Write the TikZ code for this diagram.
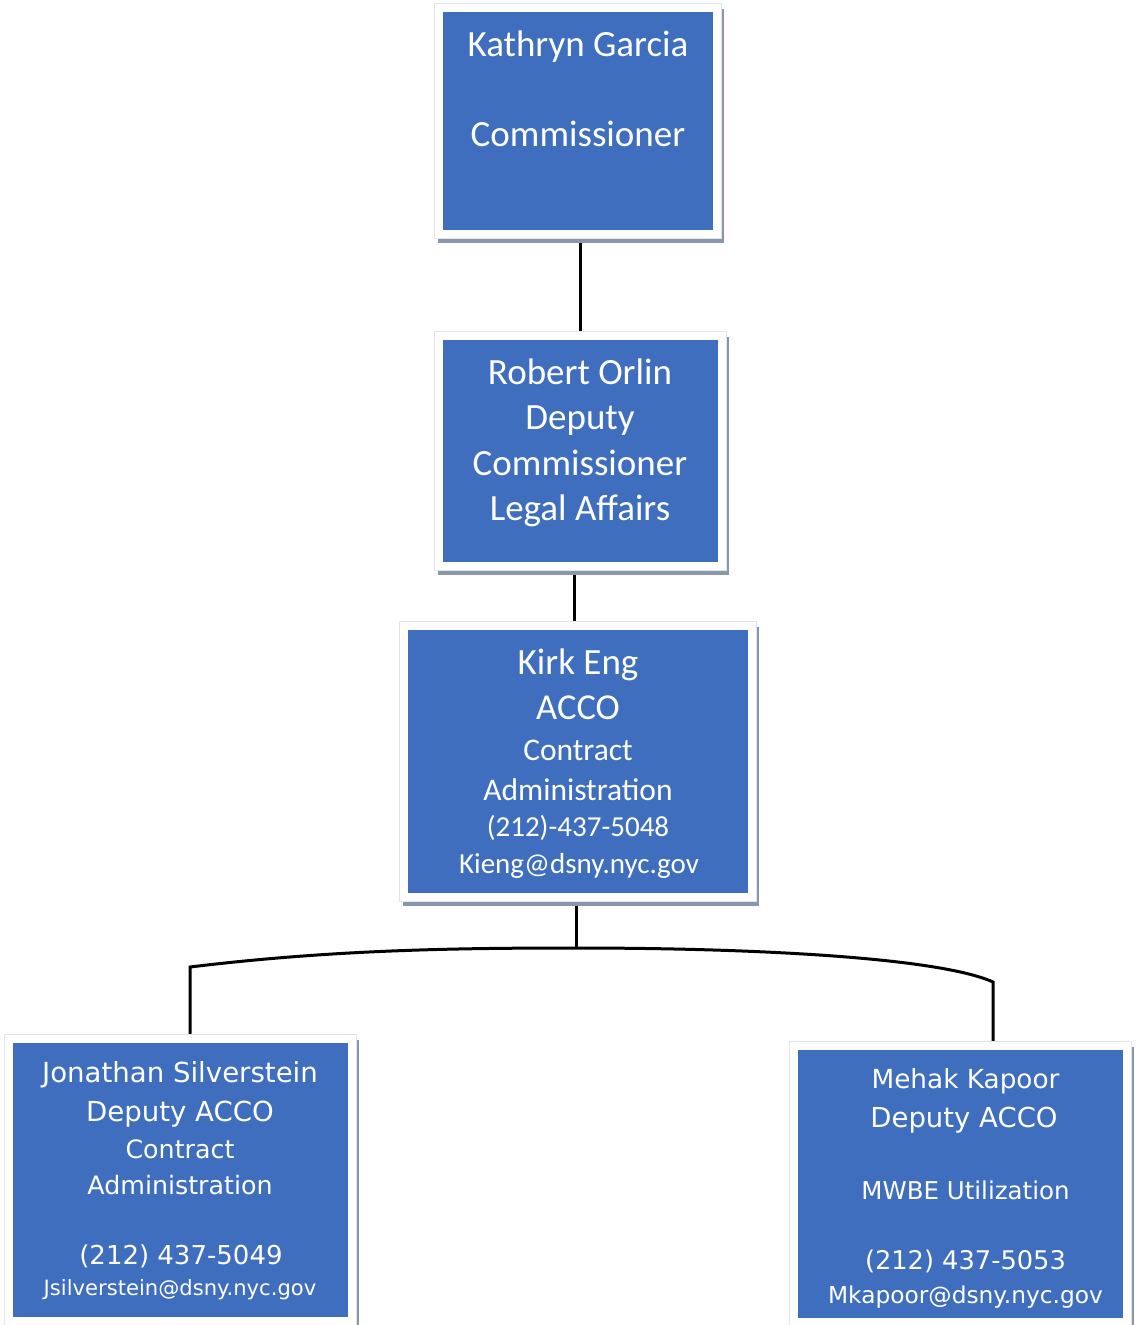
\documentclass[tikz,border=0pt]{standalone}
\usepackage{fontspec}
\newfontfamily\calfont{Carlito}
\newfontfamily\verfont{DejaVu Sans}
\usetikzlibrary{backgrounds,calc}

\definecolor{boxblue}{RGB}{63,110,190}
\definecolor{shadowgray}{RGB}{138,150,172}
\definecolor{frameedge}{RGB}{225,229,235}

\tikzset{
  orgbox/.style={rectangle, fill=boxblue, draw=none, inner sep=0pt, outer sep=0pt,
    preaction={draw=shadowgray, fill=shadowgray, line width=16pt,
               transform canvas={shift={(3pt,-5pt)}}},
    preaction={draw=frameedge, line width=18pt},
    preaction={draw=white, line width=16pt}},
  linetxt/.style={text=white, inner sep=0pt, anchor=mid},
  wire/.style={draw=black, line width=3pt},
}

\begin{document}
\begin{tikzpicture}[x=1pt,y=-1pt]
\useasboundingbox (0,0) rectangle (1140,1325);

% boxes
\node[orgbox, minimum width=270pt, minimum height=218pt] (k1) at (578,121) {};
\node[orgbox, minimum width=275pt, minimum height=222pt] (k2) at (580.5,451) {};
\node[orgbox, minimum width=340pt, minimum height=263pt] (k3) at (578,761.5) {};
\node[orgbox, minimum width=335pt, minimum height=274pt] (k4) at (180.5,1180) {};
\node[orgbox, minimum width=325pt, minimum height=268pt] (k5) at (960.5,1184) {};

% Commissioner
\node[linetxt, font=\calfont\fontsize{37}{37}\selectfont] (k1a) at (578,54) {Kathryn Garcia};
\node[linetxt, font=\calfont\fontsize{37}{37}\selectfont] (k1b) at (578,144) {Commissioner};

% Deputy Commissioner
\node[linetxt, font=\calfont\fontsize{37}{37}\selectfont] (k2a) at (580,382) {Robert Orlin};
\node[linetxt, font=\calfont\fontsize{37}{37}\selectfont] (k2b) at (580,427) {Deputy};
\node[linetxt, font=\calfont\fontsize{37}{37}\selectfont] (k2c) at (580,473) {Commissioner};
\node[linetxt, font=\calfont\fontsize{37}{37}\selectfont] (k2d) at (580,518) {Legal Affairs};

% ACCO
\node[linetxt, font=\calfont\fontsize{37}{37}\selectfont] (k3a) at (578,672) {Kirk Eng};
\node[linetxt, font=\calfont\fontsize{36.5}{37}\selectfont] (k3b) at (578,717) {ACCO};
\node[linetxt, font=\calfont\fontsize{31.5}{32}\selectfont] (k3c) at (578,758) {Contract};
\node[linetxt, font=\calfont\fontsize{31.5}{32}\selectfont] (k3d) at (578,798) {Administration};
\node[linetxt, font=\calfont\fontsize{29}{30}\selectfont] (k3e) at (578,834) {(212)-437-5048};
\node[linetxt, font=\calfont\fontsize{29}{30}\selectfont] (k3f) at (579,871) {Kieng@dsny.nyc.gov};

% Deputy ACCO, contract administration
\node[linetxt, font=\verfont\fontsize{27.6}{28}\selectfont] (k4a) at (180,1080) {Jonathan Silverstein};
\node[linetxt, font=\verfont\fontsize{27.6}{28}\selectfont] (k4b) at (180,1119) {Deputy ACCO};
\node[linetxt, font=\verfont\fontsize{25.3}{26}\selectfont] (k4c) at (180,1156) {Contract};
\node[linetxt, font=\verfont\fontsize{25.3}{26}\selectfont] (k4d) at (180,1192) {Administration};
\node[linetxt, font=\verfont\fontsize{26}{26}\selectfont] (k4e) at (181,1262) {(212) 437-5049};
\node[linetxt, font=\verfont\fontsize{21.1}{22}\selectfont] (k4f) at (180,1293) {Jsilverstein@dsny.nyc.gov};

% Deputy ACCO, MWBE
\node[linetxt, font=\verfont\fontsize{26.3}{27}\selectfont] (k5a) at (965.5,1086) {Mehak Kapoor};
\node[linetxt, font=\verfont\fontsize{27.5}{28}\selectfont] (k5b) at (964,1125) {Deputy ACCO};
\node[linetxt, font=\verfont\fontsize{24.5}{25}\selectfont] (k5c) at (965.5,1197) {MWBE Utilization};
\node[linetxt, font=\verfont\fontsize{25.7}{26}\selectfont] (k5d) at (965.5,1267) {(212) 437-5053};
\node[linetxt, font=\verfont\fontsize{23.3}{24}\selectfont] (k5e) at (965.5,1301) {Mkapoor@dsny.nyc.gov};

% reporting lines, kept behind the boxes
\begin{pgfonlayer}{background}
\fill[white] (0,0) rectangle (1140,1325);
\draw[wire] (k1.south -| k2.north) -- (k2.north);
\draw[wire] ([xshift=-6.5pt]k2.south) -- ([xshift=-6.5pt]k2.south |- k3.north);
\coordinate (j) at (576,948);
\coordinate (lt) at (190,967);
\coordinate (rt) at (993,982);
\draw[wire] (k3.south -| j) -- (j);
\draw[wire] (lt |- k4.north) -- (lt)
  .. controls (330,950) and (450,948) .. (j)
  .. controls (760,948) and (940,958) .. (rt) -- (rt |- k5.north);
\end{pgfonlayer}
\end{tikzpicture}
\end{document}
